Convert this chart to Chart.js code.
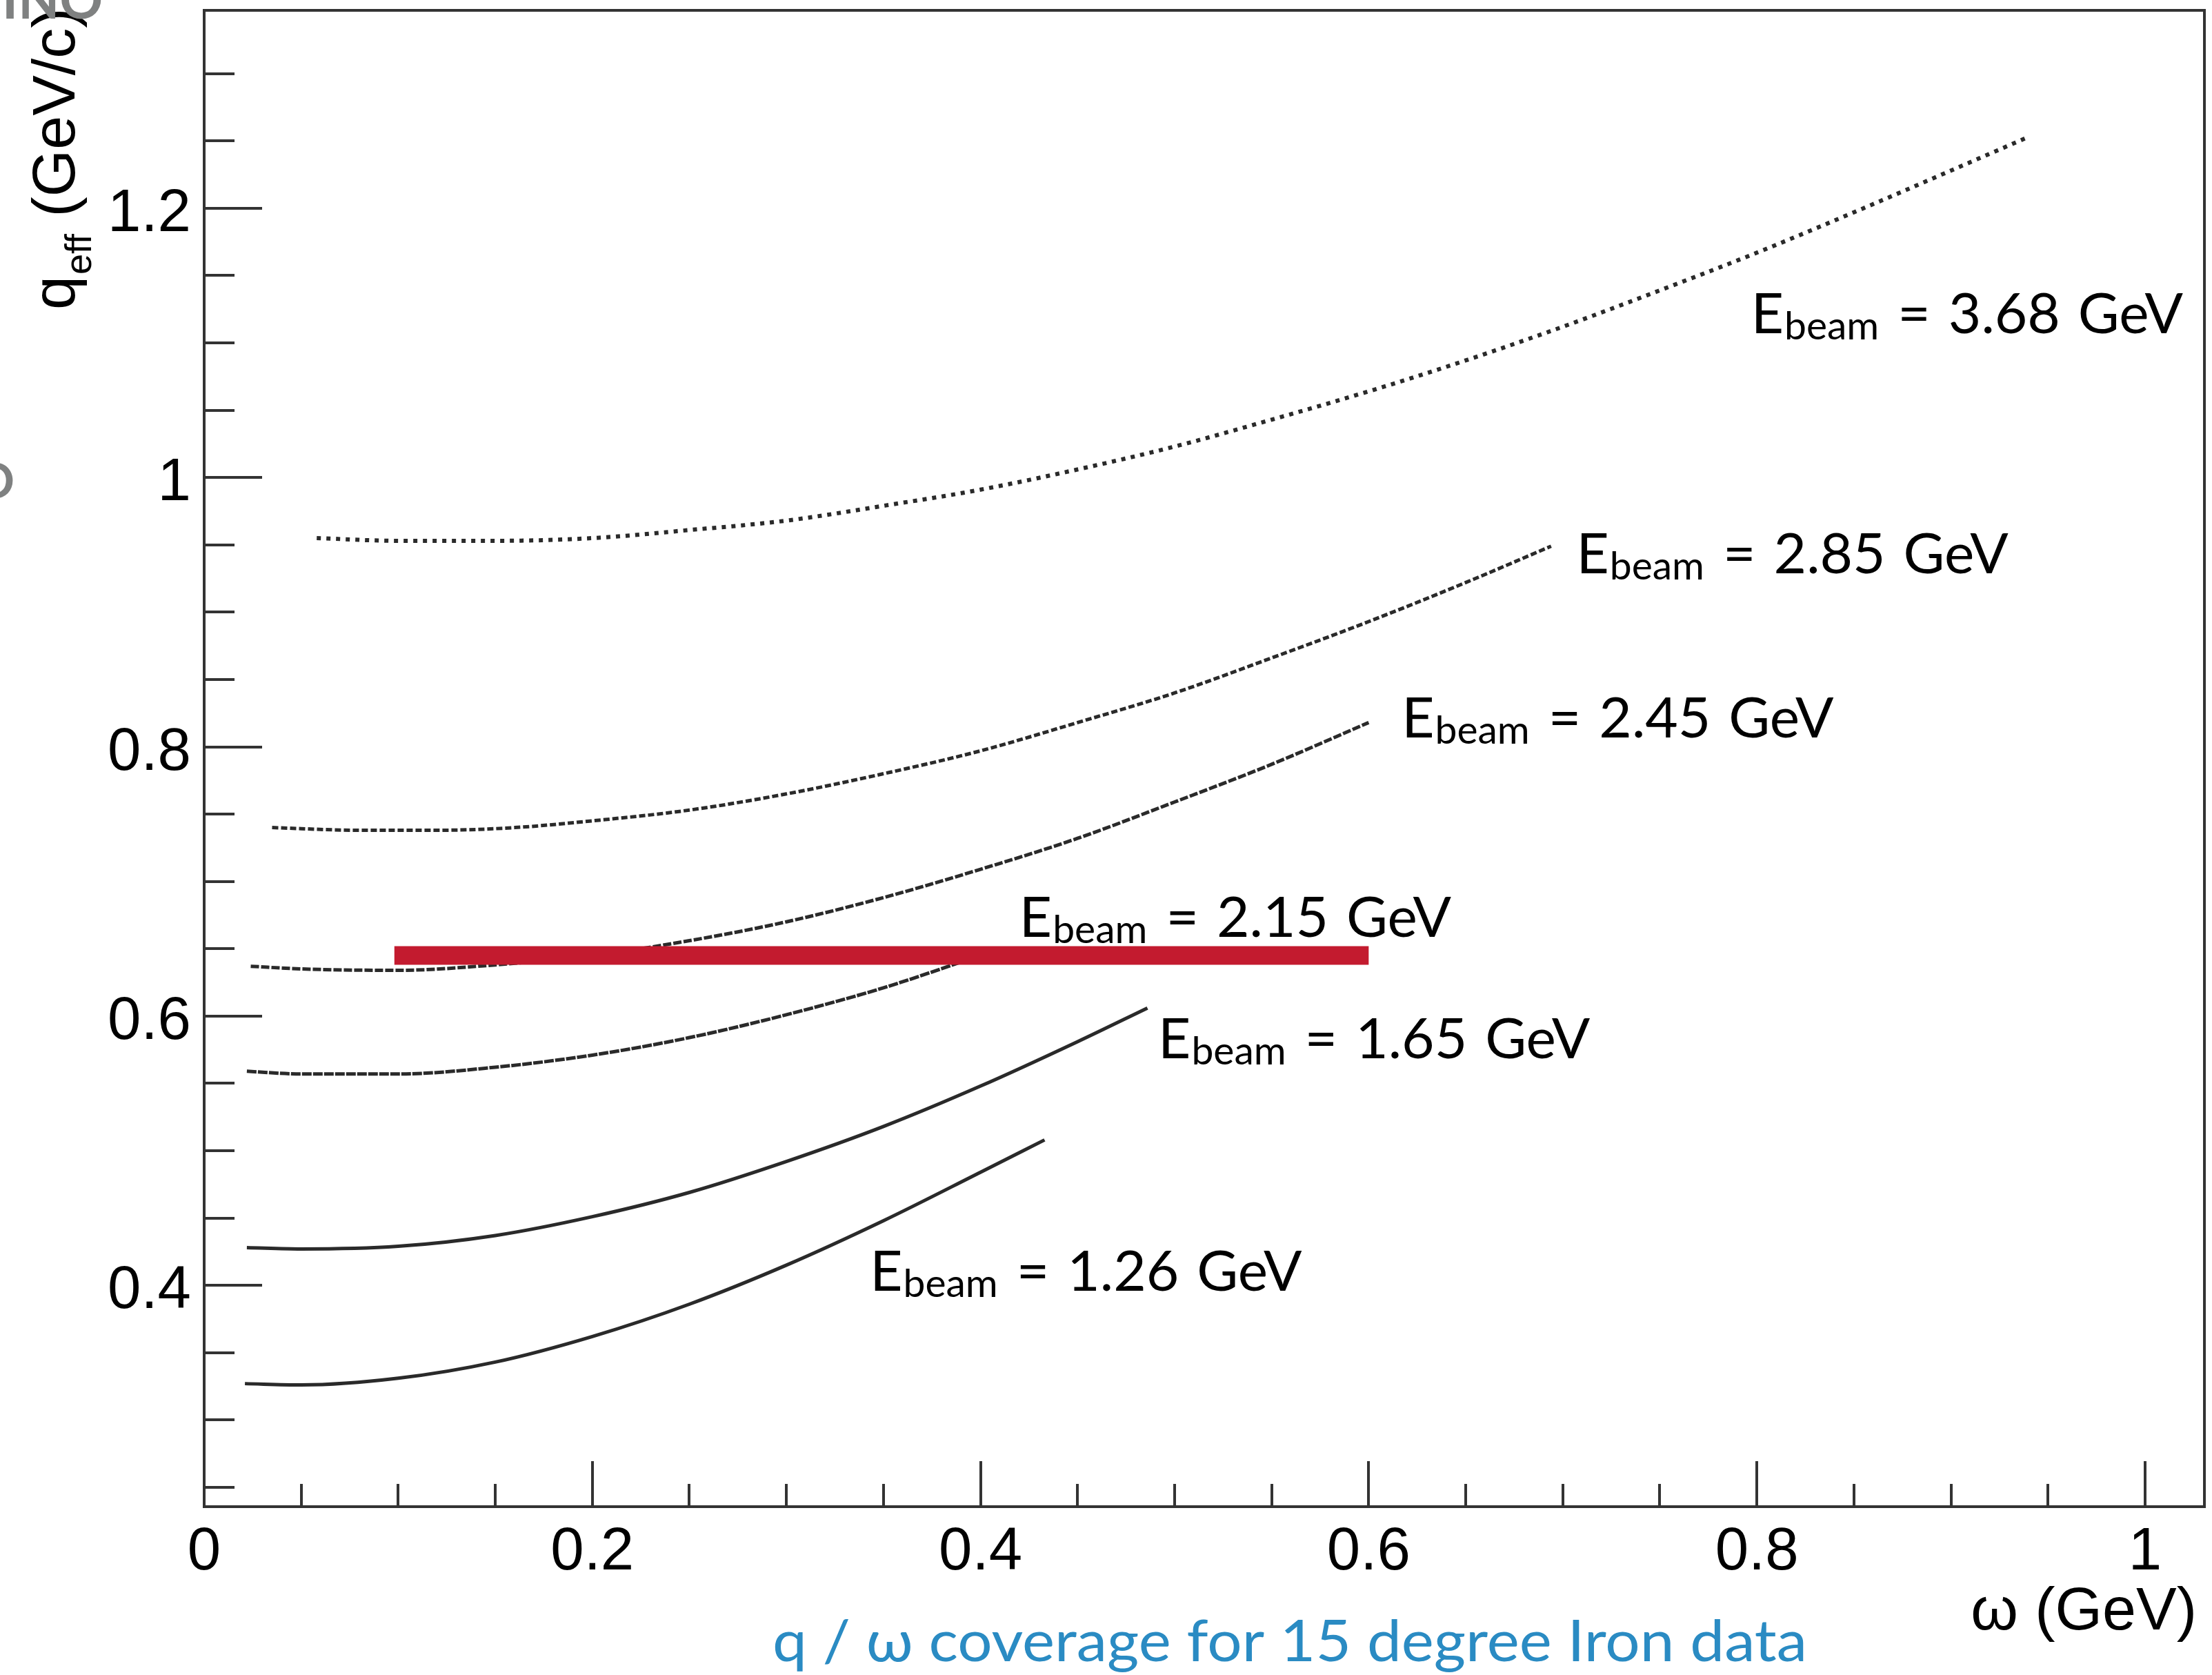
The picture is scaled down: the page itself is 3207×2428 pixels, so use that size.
<!DOCTYPE html>
<html>
<head>
<meta charset="utf-8">
<script src="https://cdn.jsdelivr.net/npm/chart.js@4.4.1/dist/chart.umd.min.js"></script>
<style>
  html, body { margin: 0; padding: 0; background: #fff; }
  canvas { display: block; }
</style>
</head>
<body>
<canvas id="qw_chart" width="3207" height="2428"></canvas>
<script>
// q_eff vs omega coverage, 15 degree iron data, one curve per beam energy
const beam_energies = ["3.68", "2.85", "2.45", "2.15", "1.65", "1.26"];

const omega_368 = [0.058, 0.10, 0.15, 0.20, 0.25, 0.30, 0.35, 0.40, 0.45, 0.50, 0.55, 0.60, 0.65, 0.70, 0.75, 0.80, 0.85, 0.90, 0.94];
const qeff_368  = [0.955, 0.953, 0.953, 0.955, 0.961, 0.968, 0.979, 0.991, 1.006, 1.023, 1.043, 1.064, 1.087, 1.112, 1.139, 1.167, 1.197, 1.228, 1.253];

const omega_285 = [0.035, 0.08, 0.12, 0.16, 0.20, 0.25, 0.30, 0.35, 0.40, 0.45, 0.50, 0.55, 0.60, 0.65, 0.694];
const qeff_285  = [0.740, 0.738, 0.738, 0.740, 0.745, 0.753, 0.765, 0.780, 0.797, 0.818, 0.840, 0.866, 0.893, 0.922, 0.949];

const omega_245 = [0.024, 0.05, 0.10, 0.15, 0.20, 0.25, 0.30, 0.35, 0.40, 0.45, 0.50, 0.55, 0.60];
const qeff_245  = [0.637, 0.635, 0.634, 0.638, 0.645, 0.656, 0.670, 0.688, 0.709, 0.732, 0.759, 0.787, 0.818];

const omega_215 = [0.022, 0.05, 0.10, 0.15, 0.20, 0.25, 0.30, 0.35, 0.40];
const qeff_215  = [0.559, 0.557, 0.557, 0.562, 0.571, 0.584, 0.601, 0.621, 0.645];

const omega_165 = [0.022, 0.05, 0.10, 0.15, 0.20, 0.25, 0.30, 0.35, 0.40, 0.45, 0.486];
const qeff_165  = [0.428, 0.427, 0.429, 0.437, 0.451, 0.469, 0.492, 0.518, 0.548, 0.581, 0.606];

const omega_126 = [0.021, 0.05, 0.10, 0.15, 0.20, 0.25, 0.30, 0.35, 0.40, 0.433];
const qeff_126  = [0.327, 0.326, 0.331, 0.343, 0.362, 0.386, 0.415, 0.448, 0.484, 0.508];

// red highlight band
const band_omega = [0.098, 0.60];
const band_qeff  = [0.645, 0.645];

// where each E_beam label sits (omega, q_eff of the text's left baseline)
const label_omega = [0.797, 0.707, 0.617, 0.420, 0.4915, 0.343];
const label_qeff  = [1.107, 0.929, 0.807, 0.659, 0.5685, 0.396];

const x_ticks = [0, 0.2, 0.4, 0.6, 0.8, 1];
const x_tick_labels = ["0", "0.2", "0.4", "0.6", "0.8", "1"];
const y_ticks = [0.4, 0.6, 0.8, 1, 1.2];
const y_tick_labels = ["0.4", "0.6", "0.8", "1", "1.2"];

const curves = [
  [omega_368, qeff_368, [6, 8], 6],
  [omega_285, qeff_285, [9, 4], 5],
  [omega_245, qeff_245, [12, 3], 5],
  [omega_215, qeff_215, [14, 2], 5],
  [omega_165, qeff_165, [], 5],
  [omega_126, qeff_126, [], 5]
];

function to_points(xs, ys) {
  return xs.map((x, i) => ({x: x, y: ys[i]}));
}

const root_font = '"Liberation Sans", Arial, sans-serif';
const label_font = 'Lato, "Open Sans", sans-serif';
const axis_color = "#333333";

function draw_ebeam(ctx, x, y, value) {
  ctx.font = "82px " + label_font;
  ctx.fillText("E", x, y);
  let cx = x + ctx.measureText("E").width + 1;
  ctx.font = "57px " + label_font;
  ctx.fillText("beam", cx, y + 9);
  cx += ctx.measureText("beam").width + 27;
  ctx.font = "82px " + label_font;
  for (const word of ["=", value, "GeV"]) {
    ctx.fillText(word, cx, y);
    cx += ctx.measureText(word).width + 26;
  }
}

const root_frame = {
  id: "root_frame",
  beforeDraw(chart) {
    const ctx = chart.ctx;
    ctx.save();
    ctx.fillStyle = "#ffffff";
    ctx.fillRect(0, 0, chart.width, chart.height);
    ctx.restore();
  },
  afterDraw(chart) {
    const ctx = chart.ctx;
    const area = chart.chartArea;
    const xs = chart.scales.x;
    const ys = chart.scales.y;
    ctx.save();

    // frame
    ctx.strokeStyle = axis_color;
    ctx.lineWidth = 4;
    ctx.strokeRect(area.left, area.top, area.right - area.left, area.bottom - area.top);

    // ticks, pointing into the frame
    ctx.beginPath();
    for (let v = 0.25; v < ys.max; v += 0.05) {
      const major = Math.abs(v * 5 - Math.round(v * 5)) < 1e-6;
      const py = Math.round(ys.getPixelForValue(v));
      ctx.moveTo(area.left, py);
      ctx.lineTo(area.left + (major ? 84 : 44), py);
    }
    for (let v = 0.05; v < xs.max; v += 0.05) {
      const major = Math.abs(v * 5 - Math.round(v * 5)) < 1e-6;
      const px = Math.round(xs.getPixelForValue(v));
      ctx.moveTo(px, area.bottom);
      ctx.lineTo(px, area.bottom - (major ? 66 : 33));
    }
    ctx.stroke();

    // tick labels
    ctx.fillStyle = "#000000";
    ctx.font = "87px " + root_font;
    ctx.textBaseline = "alphabetic";
    ctx.textAlign = "center";
    x_ticks.forEach((v, i) => {
      ctx.fillText(x_tick_labels[i], xs.getPixelForValue(v), 2275);
    });
    ctx.textAlign = "right";
    y_ticks.forEach((v, i) => {
      ctx.fillText(y_tick_labels[i], 277, ys.getPixelForValue(v) + 33);
    });

    // axis titles
    ctx.font = "88px " + root_font;
    ctx.textAlign = "right";
    ctx.fillText("\u03c9 (GeV)", 3185, 2362);

    ctx.save();
    ctx.translate(108, 449);
    ctx.rotate(-Math.PI / 2);
    ctx.textAlign = "left";
    ctx.font = "88px " + root_font;
    ctx.fillText("q", 0, 0);
    let w = ctx.measureText("q").width + 2;
    ctx.font = "54px " + root_font;
    ctx.fillText("eff", w, 24);
    w += ctx.measureText("eff").width;
    ctx.font = "88px " + root_font;
    ctx.fillText(" (GeV/c)", w, 0);
    ctx.restore();

    // beam energy labels
    ctx.textAlign = "left";
    beam_energies.forEach((e, i) => {
      draw_ebeam(ctx, xs.getPixelForValue(label_omega[i]), ys.getPixelForValue(label_qeff[i]), e);
    });

    // caption
    ctx.fillStyle = "#2a8bc3";
    ctx.font = "84px " + label_font;
    ctx.textAlign = "center";
    const cap = "q / \u03c9 coverage for 15 degree Iron data";
    const sx = 1500 / ctx.measureText(cap).width;
    ctx.save();
    ctx.translate(1870, 2408);
    ctx.scale(sx, 1);
    ctx.fillText(cap, 0, 0);
    ctx.restore();

    // leftovers of the slide behind the plot
    ctx.fillStyle = "#7f8181";
    ctx.font = "bold 78px " + label_font;
    ctx.textAlign = "left";
    ctx.fillText("INO", 3, 27);
    ctx.textAlign = "right";
    ctx.font = "bold 70px " + label_font;
    ctx.fillText("O", 21, 722);

    ctx.restore();
  }
};

const datasets = curves.map((c, i) => ({
  label: "E_beam = " + beam_energies[i] + " GeV",
  data: to_points(c[0], c[1]),
  showLine: true,
  borderColor: "#2a2a2a",
  borderWidth: c[3],
  borderDash: c[2],
  pointRadius: 0,
  tension: 0.3,
  cubicInterpolationMode: "monotone",
  order: 1
}));

datasets.push({
  label: "band",
  data: to_points(band_omega, band_qeff),
  showLine: true,
  borderColor: "#c31b2f",
  borderWidth: 27,
  borderCapStyle: "butt",
  pointRadius: 0,
  order: 0
});

new Chart(document.getElementById("qw_chart"), {
  type: "scatter",
  data: { datasets: datasets },
  options: {
    responsive: false,
    animation: false,
    devicePixelRatio: 1,
    events: [],
    layout: { padding: { left: 296, top: 15, right: 11, bottom: 244 } },
    plugins: {
      legend: { display: false },
      tooltip: { enabled: false }
    },
    scales: {
      x: { type: "linear", display: false, min: 0, max: 1.0306 },
      y: { type: "linear", display: false, min: 0.2356, max: 1.347 }
    }
  },
  plugins: [root_frame]
});
</script>
</body>
</html>
